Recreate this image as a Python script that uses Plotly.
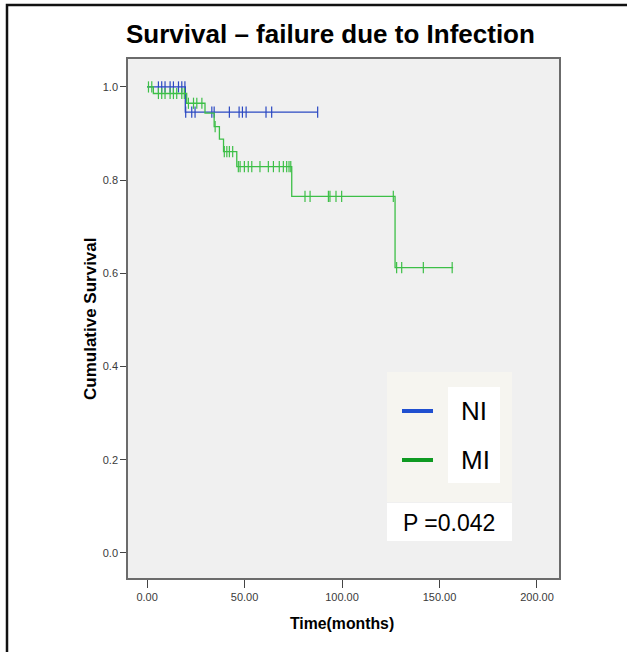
import plotly.graph_objects as go

# ---- data ----
# MI group (green): Kaplan-Meier steps
mi_step_t = [0.0, 3.2, 20.3, 29.7, 34.4, 37.1, 39.2, 46.0, 74.2, 127.2, 157.0]
mi_step_s = [1.0, 0.986, 0.965, 0.944, 0.915, 0.888, 0.861, 0.829, 0.765, 0.612, 0.612]
mi_cens_t = [0.7, 2.4,
             5.8, 7.5, 9.2, 11.8, 13.5, 15.2, 17.8, 19.1,
             21.2, 23.8, 25.5, 28.1,
             34.9,
             39.6, 40.9, 42.2, 43.9,
             46.8, 47.7, 49.9, 51.9, 53.7, 57.9, 62.2, 64.8, 67.8, 69.9, 71.6, 72.8, 73.7,
             81.0, 83.6, 93.0, 93.8, 96.9, 99.8, 126.3,
             128.0, 130.6, 141.7, 156.5]
mi_cens_s = [1.0, 1.0,
             0.986, 0.986, 0.986, 0.986, 0.986, 0.986, 0.986, 0.986,
             0.965, 0.965, 0.965, 0.965,
             0.915,
             0.861, 0.861, 0.861, 0.861,
             0.829, 0.829, 0.829, 0.829, 0.829, 0.829, 0.829, 0.829, 0.829, 0.829, 0.829, 0.829, 0.829,
             0.765, 0.765, 0.765, 0.765, 0.765, 0.765, 0.765,
             0.612, 0.612, 0.612, 0.612]

# NI group (blue)
ni_step_t = [0.0, 19.6, 87.5]
ni_step_s = [1.0, 0.946, 0.946]
ni_cens_t = [5.8, 7.5, 9.2, 11.8, 13.5, 16.1, 17.8, 19.4,
             19.8, 22.9, 24.6, 33.2, 34.4, 42.2, 47.2, 48.9, 50.8, 61.0, 63.9, 87.5]
ni_cens_s = [1.0] * 8 + [0.946] * 12

x_ticks = [0, 50, 100, 150, 200]
y_ticks = [0.0, 0.2, 0.4, 0.6, 0.8, 1.0]

BLUE = "#2b49c2"
GREEN = "#3dbf47"
FONT = "Liberation Sans, Arial, sans-serif"

W, H = 627, 652
L, R, T, B = 128, 559, 59, 578


def px(x):
    return (x - L) / (R - L)


def py(y):
    return (B - y) / (B - T)


fig = go.Figure()
fig.add_trace(go.Scatter(x=ni_step_t, y=ni_step_s, mode="lines", line_shape="hv",
                         line=dict(color=BLUE, width=1.3), showlegend=False, hoverinfo="skip"))
fig.add_trace(go.Scatter(x=ni_cens_t, y=ni_cens_s, mode="markers",
                         marker=dict(symbol="line-ns-open", size=8, color=BLUE,
                                     line=dict(color=BLUE, width=1.2)),
                         showlegend=False))
fig.add_trace(go.Scatter(x=mi_step_t, y=mi_step_s, mode="lines", line_shape="hv",
                         line=dict(color=GREEN, width=1.3), showlegend=False, hoverinfo="skip"))
fig.add_trace(go.Scatter(x=mi_cens_t, y=mi_cens_s, mode="markers",
                         marker=dict(symbol="line-ns-open", size=8, color=GREEN,
                                     line=dict(color=GREEN, width=1.2)),
                         showlegend=False))

shapes = [
    # outer frame: a rectangle whose right/bottom edges fall outside the page
    dict(type="rect", xref="paper", yref="paper", x0=px(7), x1=px(720), y0=py(5), y1=py(740),
         fillcolor="rgba(0,0,0,0)", line=dict(color="#111111", width=2.5), layer="below"),
    # legend boxes
    dict(type="rect", xref="paper", yref="paper", x0=px(387), x1=px(512), y0=py(372), y1=py(502),
         fillcolor="#f6f5f0", line=dict(width=0), layer="above"),
    dict(type="rect", xref="paper", yref="paper", x0=px(448), x1=px(500), y0=py(387), y1=py(483),
         fillcolor="white", line=dict(width=0), layer="above"),
    dict(type="rect", xref="paper", yref="paper", x0=px(387), x1=px(512), y0=py(503), y1=py(541),
         fillcolor="white", line=dict(width=0), layer="above"),
    dict(type="line", xref="paper", yref="paper", x0=px(402), x1=px(433), y0=py(411), y1=py(411),
         line=dict(color="#1f4fd0", width=4), layer="above"),
    dict(type="line", xref="paper", yref="paper", x0=px(402), x1=px(433), y0=py(460), y1=py(460),
         line=dict(color="#0e9a22", width=4), layer="above"),
]

annotations = [
    dict(text="<b>Survival – failure due to Infection</b>", xref="paper", yref="paper",
         x=px(330), y=py(34), xanchor="center", yanchor="middle", showarrow=False,
         font=dict(family=FONT, size=26, color="black")),
    dict(text="<b>Cumulative Survival</b>", xref="paper", yref="paper", textangle=-90,
         x=px(90), y=py(319), xanchor="center", yanchor="middle", showarrow=False,
         font=dict(family=FONT, size=17, color="black")),
    dict(text="<b>Time(months)</b>", xref="paper", yref="paper",
         x=px(342), y=py(623), xanchor="center", yanchor="middle", showarrow=False,
         font=dict(family=FONT, size=15.8, color="black")),
    dict(text="NI", xref="paper", yref="paper", x=px(474), y=py(411), xanchor="center",
         yanchor="middle", showarrow=False, font=dict(family=FONT, size=26, color="black")),
    dict(text="MI", xref="paper", yref="paper", x=px(475), y=py(460), xanchor="center",
         yanchor="middle", showarrow=False, font=dict(family=FONT, size=26, color="black")),
    dict(text="P =0.042", xref="paper", yref="paper", x=px(449), y=py(523), xanchor="center",
         yanchor="middle", showarrow=False, font=dict(family=FONT, size=23, color="black")),
]

fig.update_layout(
    width=W, height=H,
    margin=dict(l=L, r=W - R, t=T, b=H - B),
    paper_bgcolor="white",
    plot_bgcolor="#f0f0f0",
    shapes=shapes,
    annotations=annotations,
    font=dict(family=FONT),
)
fig.update_xaxes(range=[-9.8, 211.3], tickvals=x_ticks, tickformat=".2f", showgrid=False,
                 zeroline=False, showline=True, mirror=True, linecolor="#6b6b6b", linewidth=1.5,
                 ticks="outside", ticklen=8, tickcolor="#444", tickwidth=1.3,
                 tickfont=dict(family=FONT, size=11, color="#3a3a3a"))
fig.update_yaxes(range=[-0.054, 1.06], tickvals=y_ticks, tickformat=".1f", showgrid=False,
                 zeroline=False, showline=True, mirror=True, linecolor="#6b6b6b", linewidth=1.5,
                 ticks="outside", ticklen=6, tickcolor="#444", tickwidth=1.3,
                 tickfont=dict(family=FONT, size=11, color="#3a3a3a"))

fig.write_html("out.html")
